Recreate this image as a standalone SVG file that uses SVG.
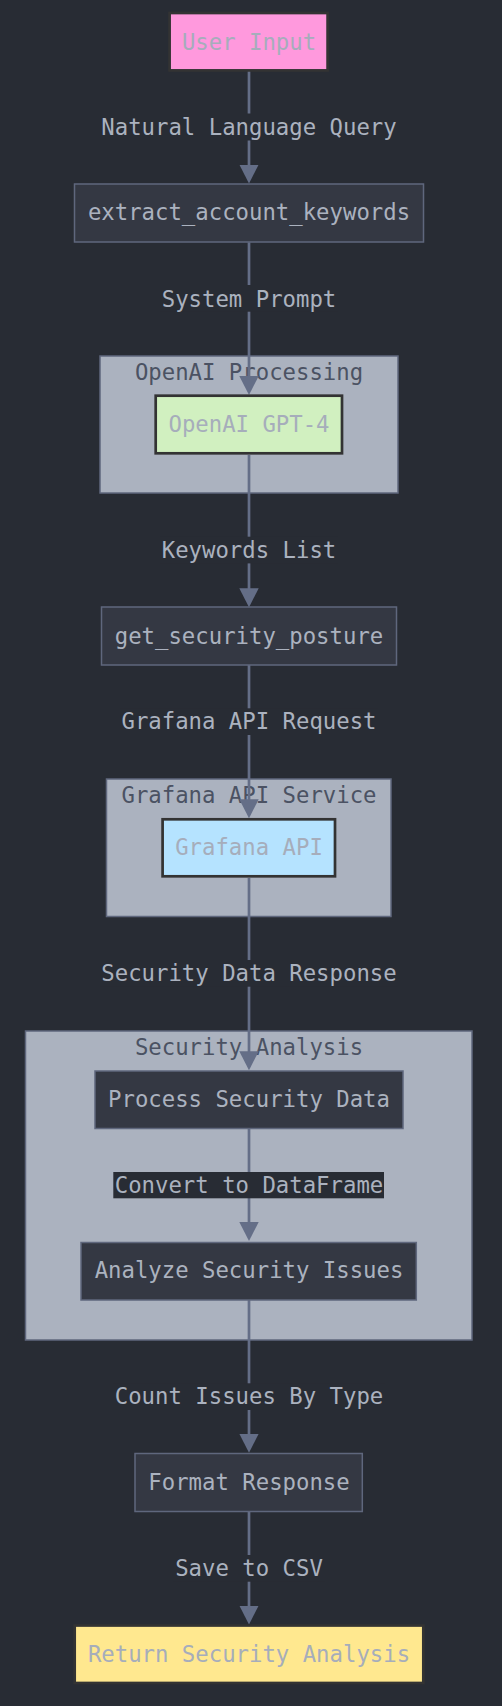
<svg xmlns="http://www.w3.org/2000/svg" width="502" height="1706" viewBox="0 0 502 1706">
<style>
text{font-family:"DejaVu Sans Mono","Liberation Mono",monospace;font-size:22.3px;text-anchor:middle}
.bg{fill:#282c34}
.node{fill:#343843;stroke:#5f677d;stroke-width:1.5}
.styled{stroke:#333333;stroke-width:2.7}
.cluster{fill:#abb2bf;stroke:#5f677d;stroke-width:1.5}
.ctitle{fill:#4b5263}
.ntext{fill:#abb2bf}
.stext{fill:#a6adbb}
.edge{fill:none;stroke:#646e87;stroke-width:2.7}
.lbg{fill:#282c34}
.ltext{fill:#abb2bf}
</style>
<defs>
<marker id="arrow" markerUnits="userSpaceOnUse" viewBox="0 0 19 19.4" markerWidth="19" markerHeight="19.4" refX="15" refY="9.7" orient="auto">
<path d="M0,0 L19,9.7 L0,19.4 Z" fill="#646e87"/>
</marker>
</defs>
<rect class="bg" x="0" y="0" width="502" height="1706"/>

<g id="cluster-openai">
<rect class="cluster" x="100" y="356" width="298" height="137"/>
<text class="ctitle" x="249" y="380">OpenAI Processing</text>
</g>
<g id="cluster-grafana">
<rect class="cluster" x="106.5" y="779" width="284.5" height="137.5"/>
<text class="ctitle" x="249" y="803.3">Grafana API Service</text>
</g>
<g id="cluster-analysis">
<rect class="cluster" x="25.5" y="1031" width="446.5" height="309"/>
<text class="ctitle" x="249" y="1055">Security Analysis</text>
</g>

<g id="connectors">
<path class="edge" d="M249,71 V179.5" marker-end="url(#arrow)"/>
<path class="edge" d="M249,242.3 V391" marker-end="url(#arrow)"/>
<path class="edge" d="M249,455 V603.3" marker-end="url(#arrow)"/>
<path class="edge" d="M249,665 V814.3" marker-end="url(#arrow)"/>
<path class="edge" d="M249,878 V1066.3" marker-end="url(#arrow)"/>
<path class="edge" d="M249,1128.3 V1237" marker-end="url(#arrow)"/>
<path class="edge" d="M249,1300 V1448.7" marker-end="url(#arrow)"/>
<path class="edge" d="M249,1511.7 V1620.5" marker-end="url(#arrow)"/>
<g id="edge-labels">
<rect class="lbg" x="100.5" y="113.5" width="297" height="27"/>
<text class="ltext" x="249" y="135">Natural Language Query</text>
<rect class="lbg" x="160" y="285" width="178" height="26.7"/>
<text class="ltext" x="249" y="306.5">System Prompt</text>
<rect class="lbg" x="160" y="536.7" width="178" height="26.7"/>
<text class="ltext" x="249" y="558.3">Keywords List</text>
<rect class="lbg" x="120" y="708.3" width="258" height="26.7"/>
<text class="ltext" x="249" y="729">Grafana API Request</text>
<rect class="lbg" x="100" y="960" width="298" height="26.7"/>
<text class="ltext" x="249" y="980.7">Security Data Response</text>
<rect class="lbg" x="113.3" y="1172" width="270.7" height="26.3"/>
<text class="ltext" x="249" y="1192.7">Convert to DataFrame</text>
<rect class="lbg" x="113" y="1383.3" width="272" height="26.7"/>
<text class="ltext" x="249" y="1404">Count Issues By Type</text>
<rect class="lbg" x="173" y="1555" width="152" height="26.7"/>
<text class="ltext" x="249" y="1576">Save to CSV</text>
</g>
</g>

<g id="node-user-input">
<rect class="styled" x="169.6" y="13" width="158" height="57.4" fill="#ff99dd"/>
<text class="stext" x="249" y="49.5">User Input</text>
</g>
<g id="node-extract">
<rect class="node" x="74.5" y="184" width="349" height="58"/>
<text class="ntext" x="249" y="220">extract_account_keywords</text>
</g>
<g id="node-gpt4">
<rect class="styled" x="155.7" y="395.7" width="186.3" height="57.6" fill="#d1f0c0"/>
<text class="stext" x="249" y="431.5">OpenAI GPT-4</text>
</g>
<g id="node-get-security">
<rect class="node" x="101.5" y="607" width="295" height="58"/>
<text class="ntext" x="249" y="644">get_security_posture</text>
</g>
<g id="node-grafana-api">
<rect class="styled" x="162.6" y="819.3" width="172.4" height="57" fill="#b5e3ff"/>
<text class="stext" x="249" y="855">Grafana API</text>
</g>
<g id="node-process">
<rect class="node" x="95" y="1071" width="308" height="57.5"/>
<text class="ntext" x="249" y="1106.7">Process Security Data</text>
</g>
<g id="node-analyze">
<rect class="node" x="81" y="1242.5" width="335.3" height="57.5"/>
<text class="ntext" x="249" y="1278.3">Analyze Security Issues</text>
</g>
<g id="node-format">
<rect class="node" x="135" y="1453.5" width="227.3" height="58"/>
<text class="ntext" x="249" y="1490">Format Response</text>
</g>
<g id="node-return">
<rect class="styled" x="74.7" y="1625.5" width="348.6" height="57.5" fill="#ffe88f"/>
<text class="stext" x="249" y="1661.7">Return Security Analysis</text>
</g>
</svg>
